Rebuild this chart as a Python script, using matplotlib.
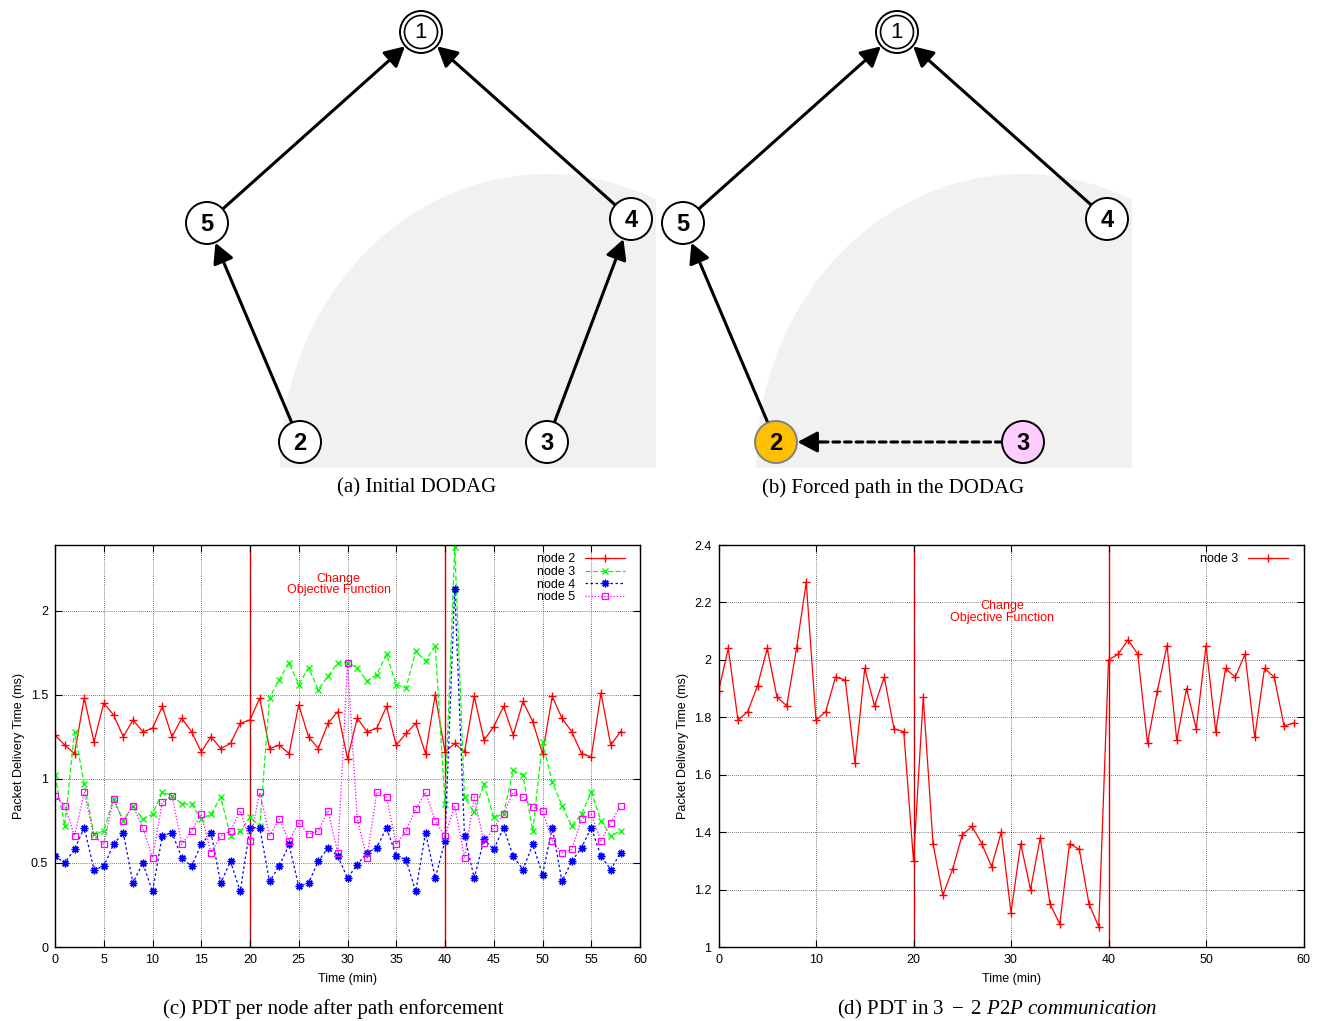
import matplotlib
matplotlib.use("Agg")
import matplotlib.pyplot as plt
from matplotlib.patches import Circle, Ellipse, Rectangle, FancyArrowPatch
import numpy as np

plt.rcParams['font.family'] = ['Liberation Sans', 'DejaVu Sans']
plt.rcParams['mathtext.fontset'] = 'custom'
plt.rcParams['mathtext.rm'] = 'Liberation Serif'
plt.rcParams['mathtext.it'] = 'Liberation Serif:italic'

# ---- data -------------------------------------------------------------
minutes = np.arange(0, 59)
node2 = [1.26, 1.20, 1.15, 1.48, 1.22, 1.45, 1.38, 1.25, 1.35, 1.28, 1.30, 1.43, 1.25, 1.36, 1.28,
         1.16, 1.25, 1.18, 1.21, 1.33, 1.35, 1.48, 1.18, 1.20, 1.15, 1.44, 1.25, 1.18, 1.33, 1.40,
         1.12, 1.36, 1.28, 1.30, 1.43, 1.20, 1.27, 1.33, 1.15, 1.50, 1.16, 1.21, 1.16, 1.49, 1.23,
         1.31, 1.43, 1.26, 1.46, 1.34, 1.15, 1.49, 1.36, 1.28, 1.15, 1.13, 1.51, 1.20, 1.28]
node3 = [1.02, 0.72, 1.28, 0.97, 0.67, 0.69, 0.88, 0.75, 0.84, 0.76, 0.79, 0.92, 0.90, 0.85, 0.85,
         0.76, 0.79, 0.89, 0.66, 0.69, 0.77, 0.72, 1.48, 1.59, 1.69, 1.56, 1.66, 1.53, 1.61, 1.69,
         1.69, 1.66, 1.58, 1.62, 1.74, 1.56, 1.54, 1.76, 1.70, 1.79, 0.85, 2.38, 0.89, 0.80, 0.97,
         0.77, 0.79, 1.05, 1.02, 0.69, 1.22, 0.98, 0.84, 0.72, 0.79, 0.92, 0.75, 0.66, 0.69]
node4 = [0.54, 0.50, 0.58, 0.71, 0.46, 0.48, 0.61, 0.68, 0.38, 0.50, 0.33, 0.66, 0.68, 0.53, 0.48,
         0.61, 0.68, 0.38, 0.51, 0.33, 0.71, 0.71, 0.39, 0.48, 0.61, 0.36, 0.38, 0.51, 0.59, 0.54,
         0.41, 0.49, 0.56, 0.59, 0.71, 0.54, 0.52, 0.33, 0.68, 0.41, 0.63, 2.13, 0.66, 0.41, 0.64,
         0.58, 0.71, 0.54, 0.46, 0.61, 0.43, 0.71, 0.39, 0.51, 0.59, 0.71, 0.54, 0.46, 0.56]
node5 = [0.90, 0.84, 0.66, 0.92, 0.66, 0.61, 0.88, 0.75, 0.84, 0.71, 0.53, 0.86, 0.90, 0.61, 0.69,
         0.79, 0.56, 0.66, 0.69, 0.81, 0.63, 0.92, 0.66, 0.76, 0.63, 0.74, 0.67, 0.69, 0.81, 0.56,
         1.69, 0.76, 0.53, 0.92, 0.89, 0.61, 0.69, 0.82, 0.92, 0.75, 0.66, 0.84, 0.53, 0.89, 0.62,
         0.71, 0.79, 0.92, 0.89, 0.83, 0.81, 0.63, 0.56, 0.58, 0.76, 0.79, 0.63, 0.74, 0.84]

p2p_minutes = np.arange(0, 60)
p2p_node3 = [1.89, 2.04, 1.79, 1.82, 1.91, 2.04, 1.87, 1.84, 2.04, 2.27, 1.79, 1.82, 1.94, 1.93, 1.64,
             1.97, 1.84, 1.94, 1.76, 1.75, 1.30, 1.87, 1.36, 1.18, 1.27, 1.39, 1.42, 1.36, 1.28, 1.40,
             1.12, 1.36, 1.20, 1.38, 1.15, 1.08, 1.36, 1.34, 1.15, 1.07, 2.00, 2.02, 2.07, 2.02, 1.71,
             1.89, 2.05, 1.72, 1.90, 1.76, 2.05, 1.75, 1.97, 1.94, 2.02, 1.73, 1.97, 1.94, 1.77, 1.78]

of_changes = [20, 40]

# DODAG layout (pixel space of the figure)
node_pos = {'1': (421, 32), '5': (207, 223), '4': (631, 219), '2': (300, 442), '3': (547, 442)}
panel_shift = 476
edges_a = [('5', '1'), ('4', '1'), ('2', '5'), ('3', '4')]
edges_b = [('5', '1'), ('4', '1'), ('2', '5')]
forced_b = [('3', '2')]
fill_b = {'2': ('#ffc000', '#808080'), '3': ('#ffccff', 'black')}


fig = plt.figure(figsize=(13.21, 10.21), dpi=100)

# ---- top diagrams -----------------------------------------------------
dax = fig.add_axes([0, 0, 1, 1])
dax.set_xlim(0, 1321)
dax.set_ylim(1021, 0)
dax.axis('off')

HEAD = '-|>,head_length=0.6,head_width=0.32'


def draw_dodag(shift, edges, dashed, fills):
	# grey shaded region
	rect = Rectangle((280 + shift, 174), 376, 294, transform=dax.transData)
	shade = Ellipse((547 + shift, 468), 534, 588, fc='#f1f1f1', ec='none', zorder=0)
	dax.add_patch(shade)
	shade.set_clip_path(rect)

	def pos(n):
		x, y = node_pos[n]
		return (x + shift, y)

	for a, b in edges:
		dax.add_patch(FancyArrowPatch(pos(a), pos(b), arrowstyle=HEAD,
		                              mutation_scale=20, shrinkA=15, shrinkB=15.5,
		                              lw=2.2, color='black', zorder=2))
	for a, b in dashed:
		pa, pb = np.array(pos(a)), np.array(pos(b))
		# dashed shaft, then a solid head on the last stretch
		dax.add_patch(FancyArrowPatch(tuple(pa), tuple(pb), arrowstyle='-',
		                              shrinkA=15, shrinkB=28, lw=2.2, color='black',
		                              linestyle=(0, (2.2, 1.6)), zorder=2))
		u = (pb - pa) / np.hypot(*(pb - pa))
		dax.add_patch(FancyArrowPatch(tuple(pb - u * 45), tuple(pb), arrowstyle=HEAD,
		                              mutation_scale=20, shrinkA=0, shrinkB=15.5,
		                              lw=2.2, color='black', zorder=2))
	for n in node_pos:
		fc, ec = fills.get(n, ('white', 'black'))
		dax.add_patch(Circle(pos(n), 21, fc=fc, ec=ec, lw=1.4, zorder=3))
		if n == '1':
			dax.add_patch(Circle(pos(n), 16.5, fc='none', ec='black', lw=1.2, zorder=3))
			dax.text(*pos(n), n, ha='center', va='center', fontsize=16, zorder=4)
		else:
			dax.text(pos(n)[0], pos(n)[1] + 1, n, ha='center', va='center',
			         fontsize=17, fontweight='bold', zorder=4)


draw_dodag(0, edges_a, [], {})
draw_dodag(panel_shift, edges_b, forced_b, fill_b)

cap = dict(ha='center', va='center', fontsize=15, family='Liberation Serif')
dax.text(417, 488, '(a) Initial DODAG', **cap)
dax.text(893, 488, '(b) Forced path in the DODAG', **cap)
dax.text(333, 1009, '(c) PDT per node after path enforcement', **cap)
dax.text(997, 1009, r'(d) PDT in $3\ -\ 2$ $\mathit{P2P\ communication}$', **cap)


# ---- bottom plots -----------------------------------------------------
def style(ax, xmax, ymin, ymax, xstep, ystep):
	ax.set_xlim(0, xmax)
	ax.set_ylim(ymin, ymax)
	ax.set_xticks(np.arange(0, xmax + 1, xstep))
	ax.set_yticks(np.arange(ymin, ymax + 1e-9, ystep))
	ax.tick_params(direction='in', top=True, right=True, length=5, width=0.8,
	               labelsize=9, pad=5)
	ax.grid(True, color='black', lw=0.5, linestyle=(0, (1, 2)))
	for s in ax.spines.values():
		s.set_linewidth(1.0)
	ax.set_xlabel('Time (min)', fontsize=9, labelpad=5)
	ax.set_ylabel('Packet Delivery Time (ms)', fontsize=9, labelpad=4)
	for x in of_changes:
		ax.axvline(x, color='red', lw=1.0, zorder=1)


ax_c = fig.add_axes([55 / 1321, 74 / 1021, 585 / 1321, 402 / 1021])
style(ax_c, 60, 0, 2.39, 5, 0.5)
ax_c.set_yticks([0, 0.5, 1, 1.5, 2])
ax_c.set_yticklabels(['0', '0.5', '1', '1.5', '2'])
ax_c.plot(minutes, node2, color='red', lw=0.9, marker='+', ms=6, mew=1, label='node 2')
ax_c.plot(minutes, node3, color='#00ff00', lw=0.9, ls=(0, (4, 2)), marker='x', ms=4.5, mew=1,
          label='node 3')
ax_c.plot(minutes, node4, color='blue', lw=0.9, ls=(0, (2, 2)), marker=(8, 2, 0), ms=5.5, mew=1,
          label='node 4')
ax_c.plot(minutes, node5, color='magenta', lw=0.9, ls=(0, (1, 1.5)), marker='s', ms=5, mew=0.9,
          mfc='none', label='node 5')
ax_c.text(29.1, 2.155, 'Change\nObjective Function', color='red', fontsize=9,
          ha='center', va='center', linespacing=0.95)
ax_c.legend(loc='upper right', bbox_to_anchor=(0.985, 0.995), frameon=False, fontsize=9,
            markerfirst=False, handlelength=3.2, labelspacing=0.05, handletextpad=0.8,
            borderpad=0, numpoints=1)

ax_d = fig.add_axes([718.5 / 1321, 74 / 1021, 585 / 1321, 402 / 1021])
style(ax_d, 60, 1, 2.4, 10, 0.2)
ax_d.set_yticks([1, 1.2, 1.4, 1.6, 1.8, 2, 2.2, 2.4])
ax_d.set_yticklabels(['1', '1.2', '1.4', '1.6', '1.8', '2', '2.2', '2.4'])
ax_d.plot(p2p_minutes, p2p_node3, color='red', lw=0.9, marker='+', ms=6, mew=1, label='node 3')
ax_d.text(29.1, 2.167, 'Change\nObjective Function', color='red', fontsize=9,
          ha='center', va='center', linespacing=0.95)
ax_d.legend(loc='upper right', bbox_to_anchor=(0.985, 0.995), frameon=False, fontsize=9,
            markerfirst=False, handlelength=3.2, handletextpad=0.8, borderpad=0, numpoints=1)

fig.savefig('out.png', dpi=100)
